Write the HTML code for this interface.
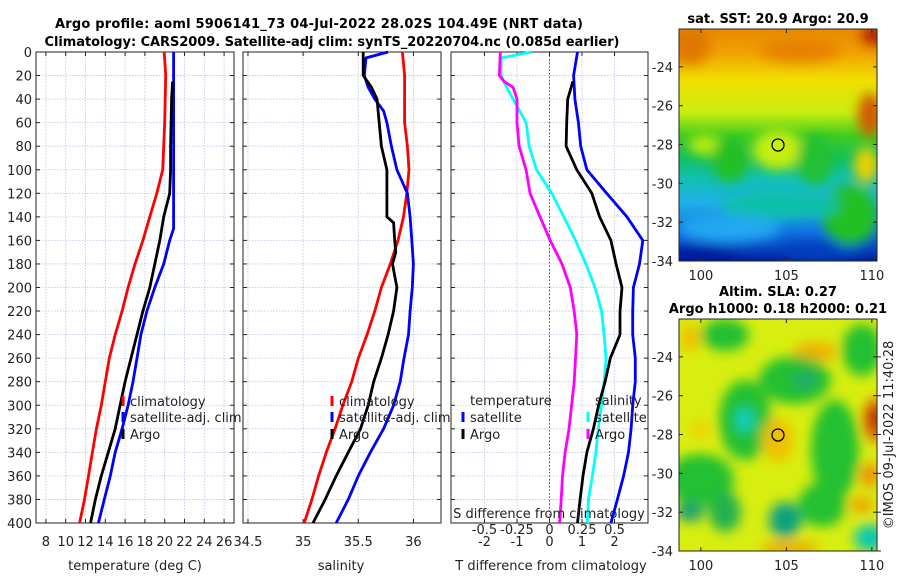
<!DOCTYPE html>
<html><head><meta charset="utf-8"><style>
html,body{margin:0;padding:0;background:#fff;}
svg{display:block;font-family:"DejaVu Sans","Liberation Sans",sans-serif;}
</style></head><body>
<svg id="fig" width="900" height="580" viewBox="0 0 900 580" xmlns="http://www.w3.org/2000/svg">
<defs>
<filter id="blur6" x="-20%" y="-20%" width="140%" height="140%"><feGaussianBlur stdDeviation="6"/></filter>
<clipPath id="clipTop"><rect x="679" y="29" width="198" height="232"/></clipPath>
<clipPath id="clipBot"><rect x="679" y="319" width="198" height="232"/></clipPath>
<linearGradient id="sstGrad" x1="0" y1="0" x2="0" y2="1">
<stop offset="0" stop-color="#e88a00"/><stop offset="0.1" stop-color="#f0a000"/>
<stop offset="0.22" stop-color="#f0e000"/><stop offset="0.36" stop-color="#c8ee10"/>
<stop offset="0.46" stop-color="#40cc20"/><stop offset="0.56" stop-color="#10c060"/>
<stop offset="0.64" stop-color="#10c0b0"/><stop offset="0.75" stop-color="#20b0e8"/>
<stop offset="0.88" stop-color="#1070e0"/><stop offset="1" stop-color="#0020a0"/></linearGradient>
</defs>
<text x="319" y="28" font-size="13" font-weight="bold" text-anchor="middle" textLength="528">Argo profile: aoml 5906141_73 04-Jul-2022 28.02S 104.49E (NRT data)</text>
<text x="332" y="46" font-size="13" font-weight="bold" text-anchor="middle" textLength="575">Climatology: CARS2009. Satellite-adj clim: synTS_20220704.nc (0.085d earlier)</text>
<g id="charts"></g>
<g id="maps">
<text x="778" y="23" font-size="13" font-weight="bold" text-anchor="middle">sat. SST: 20.9 Argo: 20.9</text>
<g clip-path="url(#clipTop)">
<rect x="679" y="29" width="198" height="232" fill="url(#sstGrad)"/>
<g filter="url(#blur6)">
<ellipse cx="690" cy="45" rx="20" ry="20" fill="#e07800"/>
<ellipse cx="800" cy="50" rx="40" ry="12" fill="#e88000"/>
<ellipse cx="875" cy="35" rx="14" ry="10" fill="#b02000"/>
<ellipse cx="870" cy="115" rx="12" ry="22" fill="#d05800"/>
<ellipse cx="866" cy="165" rx="12" ry="18" fill="#f0d000"/>
<ellipse cx="850" cy="215" rx="28" ry="30" fill="#20c020"/>
<ellipse cx="778" cy="150" rx="25" ry="20" fill="#c8ee10"/>
<ellipse cx="705" cy="145" rx="16" ry="10" fill="#b8ec10"/>
<ellipse cx="730" cy="160" rx="18" ry="22" fill="#20c020"/>
<ellipse cx="815" cy="160" rx="18" ry="25" fill="#20c030"/>
<ellipse cx="780" cy="205" rx="60" ry="14" fill="#10c0a8"/>
<ellipse cx="730" cy="228" rx="50" ry="14" fill="#20a8f0"/>
<ellipse cx="700" cy="256" rx="40" ry="8" fill="#0018a0"/>
<ellipse cx="820" cy="252" rx="40" ry="8" fill="#0040c0"/>
</g>
</g>
<rect x="679" y="29" width="198" height="232" fill="none" stroke="#222" stroke-width="1"/>
<circle cx="778" cy="145" r="6" fill="none" stroke="#000" stroke-width="1.3"/>
<text x="778" y="296" font-size="13" font-weight="bold" text-anchor="middle">Altim. SLA: 0.27</text>
<text x="778" y="313" font-size="13" font-weight="bold" text-anchor="middle">Argo h1000: 0.18 h2000: 0.21</text>
<g clip-path="url(#clipBot)">
<rect x="679" y="319" width="198" height="232" fill="#d8ee10"/>
<g filter="url(#blur6)">
<ellipse cx="725" cy="335" rx="24" ry="16" fill="#20c030"/>
<ellipse cx="690" cy="338" rx="10" ry="14" fill="#f0c000"/>
<ellipse cx="815" cy="352" rx="22" ry="10" fill="#f0b000"/>
<ellipse cx="862" cy="350" rx="20" ry="26" fill="#20c030"/>
<ellipse cx="745" cy="420" rx="26" ry="40" fill="#20c030"/>
<ellipse cx="745" cy="420" rx="9" ry="12" fill="#10d0c0"/>
<ellipse cx="795" cy="380" rx="36" ry="24" fill="#20c030"/>
<ellipse cx="805" cy="380" rx="12" ry="8" fill="#20a870"/>
<ellipse cx="835" cy="450" rx="24" ry="50" fill="#20c030"/>
<ellipse cx="700" cy="480" rx="34" ry="26" fill="#20c030"/>
<ellipse cx="690" cy="512" rx="14" ry="10" fill="#20a070"/>
<ellipse cx="725" cy="512" rx="16" ry="20" fill="#20b050"/>
<ellipse cx="785" cy="520" rx="16" ry="18" fill="#10a080"/>
<ellipse cx="822" cy="505" rx="24" ry="22" fill="#20c030"/>
<ellipse cx="870" cy="538" rx="16" ry="14" fill="#10c8b0"/>
<ellipse cx="875" cy="420" rx="12" ry="22" fill="#e06000"/>
<ellipse cx="876" cy="418" rx="6" ry="10" fill="#a01000"/>
<ellipse cx="870" cy="475" rx="10" ry="12" fill="#f09000"/>
<ellipse cx="862" cy="505" rx="12" ry="8" fill="#f0a000"/>
<ellipse cx="778" cy="440" rx="16" ry="22" fill="#f0c000"/>
<ellipse cx="700" cy="430" rx="10" ry="9" fill="#f0d000"/>
<ellipse cx="790" cy="548" rx="30" ry="6" fill="#f0a000"/>
</g>
</g>
<rect x="679" y="319" width="198" height="232" fill="none" stroke="#222" stroke-width="1"/>
<circle cx="778" cy="435" r="6" fill="none" stroke="#000" stroke-width="1.3"/>
<text transform="translate(893,435) rotate(-90)" font-size="13" text-anchor="middle" fill="#222">©IMOS 09-Jul-2022 11:40:28</text>
</g>
</svg>
<script>
// ---- data ----
const tDepth=[0,20,40,60,80,100,120,140,160,180,200,220,240,260,280,300,320,340,360,380,400];
const tClim=[19.95,20.1,20.05,20.0,19.9,19.8,19.2,18.5,17.8,17.0,16.3,15.7,15.0,14.4,14.0,13.6,13.1,12.7,12.3,11.9,11.4];
const tSatDepth=[0,150,160,180,200,220,240,260,280,300,320,340,360,380,400];
const tSat=[20.9,20.9,20.5,19.9,19.0,18.2,17.6,17.2,16.8,16.3,15.7,15.0,14.5,13.9,13.3];
const tArgoDepth=[25,40,80,100,120,130,140,160,180,200,220,240,260,280,300,320,340,360,380,400];
const tArgo=[20.8,20.7,20.6,20.6,20.5,20.2,19.9,19.5,19.0,18.5,17.8,17.2,16.6,16.0,15.5,15.0,14.3,13.6,13.0,12.5];
const sClim=[35.90,35.92,35.92,35.92,35.945,35.96,35.94,35.91,35.86,35.79,35.71,35.65,35.58,35.50,35.44,35.36,35.29,35.21,35.14,35.08,35.01];
const sSatDepth=[0,5,20,30,40,50,60,80,100,120,140,160,180,200,220,240,260,280,300,320,340,360,380,400];
const sSat=[35.77,35.57,35.555,35.59,35.65,35.73,35.76,35.80,35.85,35.945,35.97,35.985,36.0,35.99,35.97,35.955,35.915,35.88,35.82,35.73,35.61,35.50,35.41,35.30];
const sArgoDepth=[0,20,30,40,60,80,100,120,140,145,160,170,180,200,220,240,260,280,300,320,340,360,380,400];
const sArgo=[35.545,35.545,35.62,35.67,35.69,35.71,35.76,35.76,35.76,35.82,35.83,35.84,35.81,35.85,35.82,35.77,35.71,35.64,35.59,35.52,35.41,35.30,35.20,35.09];
const dTSat=[0.86,0.74,0.78,0.89,0.96,1.15,1.76,2.38,2.87,2.77,2.58,2.56,2.56,2.64,2.64,2.56,2.51,2.43,2.28,2.09,1.89];
const dTArgoDepth=[25,40,60,80,100,120,140,160,180,200,220,240,260,280,300,320,340,360,380,400];
const dTArgo=[0.72,0.56,0.53,0.51,0.84,1.30,1.54,1.89,2.05,2.23,2.17,2.17,1.87,1.71,1.51,1.35,1.15,1.03,0.94,0.86];
const dSSatDepth=[0,5,20,30,40,60,80,100,120,140,160,180,200,220,240,260,280,300,320,340,360,380,400];
const dSSat=[-0.138,-0.372,-0.372,-0.33,-0.28,-0.18,-0.156,-0.10,0.018,0.11,0.2,0.28,0.35,0.40,0.42,0.435,0.42,0.40,0.375,0.357,0.33,0.30,0.29];
const dSArgoDepth=[0,20,25,30,40,60,80,100,120,140,160,180,200,220,240,260,280,300,320,340,360,380,400];
const dSArgo=[-0.378,-0.385,-0.35,-0.28,-0.25,-0.25,-0.234,-0.18,-0.15,-0.073,0.005,0.096,0.16,0.19,0.21,0.20,0.19,0.17,0.15,0.12,0.10,0.09,0.078];
const depthTicks=[0,20,40,60,80,100,120,140,160,180,200,220,240,260,280,300,320,340,360,380,400];
const tTicks=[8,10,12,14,16,18,20,22,24,26];
const sTicks=[34.5,35,35.5,36];
const sTickLabels=["34.5","35","35.5","36"];
const dTTicks=[-2,-1,0,1,2];
const dSTicks=[-0.5,-0.25,0,0.25,0.5];
const dSTickLabels=["-0.5","-0.25","0","0.25","0.5"];
const lonTicks=[100,105,110];
const latTicks=[-24,-26,-28,-30,-32,-34];

// ---- layout ----
const NS="http://www.w3.org/2000/svg";
const g=document.getElementById('charts');
const Y0=52,Y1=523;
const yScale=d=>Y0+(d/400)*(Y1-Y0);
const P1={x0:36,x1:234,min:7,max:27};
const P2={x0:243,x1:441,min:34.455,max:36.25};
const P3={x0:451,x1:648,min:-3.03,max:3.03};
const P3S={x0:451,x1:648,min:-0.7575,max:0.7575};
const xs=(p,v)=>p.x0+(v-p.min)/(p.max-p.min)*(p.x1-p.x0);
function el(tag,attrs,parent){const e=document.createElementNS(NS,tag);for(const k in attrs)e.setAttribute(k,attrs[k]);(parent||g).appendChild(e);return e;}
function txt(x,y,s,size,anchor,parent){const t=el('text',{x:x,y:y,'font-size':size,'text-anchor':anchor,fill:'#222'},parent);t.textContent=s;return t;}

function panel(p,name,xt,xl){
  const grp=el('g',{});
  
  
  depthTicks.forEach(d=>{const y=yScale(d);
    el('line',{x1:p.x0,x2:p.x1,y1:y,y2:y,stroke:'#b8c4e8','stroke-width':0.8,'stroke-dasharray':'1.5,1.5'},grp);
    el('line',{x1:p.x0,x2:p.x0+4,y1:y,y2:y,stroke:'#222'},grp);
    el('line',{x1:p.x1-4,x2:p.x1,y1:y,y2:y,stroke:'#222'},grp);});
  xt.forEach((v,i)=>{const x=xs(p,v);
    el('line',{x1:x,x2:x,y1:Y0,y2:Y1,stroke:'#b8c4e8','stroke-width':0.8,'stroke-dasharray':'1.5,1.5'},grp);
    el('line',{x1:x,x2:x,y1:Y1-4,y2:Y1,stroke:'#222'},grp);
    el('line',{x1:x,x2:x,y1:Y0,y2:Y0+4,stroke:'#222'},grp);
    const t=txt(x,546,xl?xl[i]:String(v),13,'middle',grp);
    
    });
  el('rect',{x:p.x0,y:Y0,width:p.x1-p.x0,height:Y1-Y0,fill:'none',stroke:'#222','stroke-width':1},grp);
  return grp;
}
function series(p,depths,vals,color,name,parent){
  const pts=vals.map((v,i)=>xs(p,v).toFixed(1)+','+yScale(depths[i]).toFixed(1)).join(' ');
  const pl=el('polyline',{points:pts,fill:'none',stroke:color,'stroke-width':2.8,'stroke-linejoin':'round'},parent);
  
  
}
function legend(x,y,color,label,parent){
  el('line',{x1:x,x2:x,y1:y-10,y2:y,stroke:color,'stroke-width':3},parent);
  const t=txt(x+7,y,label,13,'start',parent);
  
  
}

// Panel 1
const g1=panel(P1,'temperature-panel',tTicks);
series(P1,tDepth,tClim,'#ff0000','temp-climatology-line',g1);
series(P1,tSatDepth,tSat,'#0000ff','temp-satellite-line',g1);
series(P1,tArgoDepth,tArgo,'#000000','temp-argo-line',g1);
legend(123,406,'#ff0000','climatology',g1);
legend(123,422,'#0000ff','satellite-adj. clim',g1);
legend(123,439,'#000000','Argo',g1);
depthTicks.forEach(d=>{const t=txt(32,yScale(d)+5,String(d),13,'end',g1);
  
  });
let at=txt(135,570,'temperature (deg C)',13,'middle',g1);



// Panel 2
const g2=panel(P2,'salinity-panel',sTicks,sTickLabels);
series(P2,tDepth,sClim,'#ff0000','sal-climatology-line',g2);
series(P2,sSatDepth,sSat,'#0000ff','sal-satellite-line',g2);
series(P2,sArgoDepth,sArgo,'#000000','sal-argo-line',g2);
legend(332,406,'#ff0000','climatology',g2);
legend(332,422,'#0000ff','satellite-adj. clim',g2);
legend(332,439,'#000000','Argo',g2);
at=txt(341,570,'salinity',13,'middle',g2);



// Panel 3
const g3=panel(P3,'difference-panel',dTTicks);
el('line',{x1:xs(P3,0),x2:xs(P3,0),y1:Y0,y2:Y1,stroke:'#555','stroke-width':1,'stroke-dasharray':'1.5,2'},g3);
dSTicks.forEach(v=>{const x=xs(P3S,v);el('line',{x1:x,x2:x,y1:Y0,y2:Y0+4,stroke:'#222'},g3);});
series(P3S,dSSatDepth,dSSat,'#00ffff','sdiff-satellite-line',g3);
series(P3S,dSArgoDepth,dSArgo,'#ff00ff','sdiff-argo-line',g3);
series(P3,tDepth,dTSat,'#0000ff','tdiff-satellite-line',g3);
series(P3,dTArgoDepth,dTArgo,'#000000','tdiff-argo-line',g3);
let lt=txt(470,405,'temperature',13,'start',g3);


legend(463,422,'#0000ff','satellite',g3);
legend(463,439,'#000000','Argo',g3);
lt=txt(595,405,'salinity',13,'start',g3);


legend(588,422,'#00ffff','satellite',g3);
legend(588,439,'#ff00ff','Argo',g3);
lt=txt(549,518,'S difference from climatology',13,'middle',g3);


dSTicks.forEach((v,i)=>{const t=txt(xs(P3S,v),534,dSTickLabels[i],13,'middle',g3);
  
  });
at=txt(551,570,'T difference from climatology',13,'middle',g3);



// Map axes
const mg=document.getElementById('maps');
const lonX=v=>679+(v-98.72)/(110.3-98.72)*198;
function mapAxes(y0,y1,labY,rightTicks){
  const latY=v=>y0+(-22.05-v)/(-22.05+34)*(y1-y0);
  lonTicks.forEach(v=>{const x=lonX(v);
    el('line',{x1:x,x2:x,y1:y1-4,y2:y1,stroke:'#222'},mg);
    el('line',{x1:x,x2:x,y1:y0,y2:y0+4,stroke:'#222'},mg);
    const t=txt(x,labY,String(v),13,'middle',mg);
    
    });
  latTicks.forEach(v=>{const y=latY(v);
    el('line',{x1:679,x2:683,y1:y,y2:y,stroke:'#222'},mg);
    el('line',{x1:873,x2:877,y1:y,y2:y,stroke:'#222'},mg);
    if(rightTicks) el('line',{x1:877,x2:881,y1:y,y2:y,stroke:'#222'},mg);
    const t=txt(673,y+5,String(v),13,'end',mg);
    
    });
}
mapAxes(29,261,280,false);
mapAxes(319,551,570,true);
</script>
</body></html>
